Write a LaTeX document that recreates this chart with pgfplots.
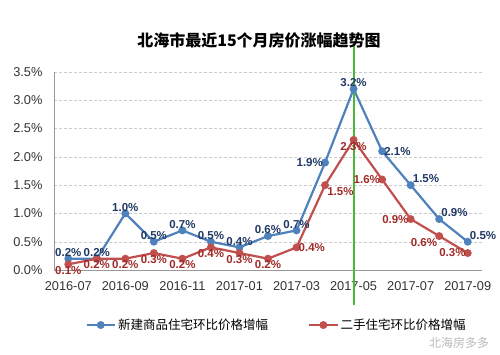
\documentclass[border=0pt]{standalone}
\usepackage{pgfplots}
\pgfplotsset{compat=1.18}
\usepackage{fontspec}
\setmainfont{Liberation Sans}
\newfontfamily\cjk{Noto Sans CJK SC}
\definecolor{sblue}{HTML}{4F81BD}
\definecolor{sred}{HTML}{C0504D}
\definecolor{lblue}{HTML}{1F3864}
\definecolor{lred}{HTML}{A02B28}
\definecolor{gline}{HTML}{4CB83A}
\definecolor{tickc}{HTML}{333333}

\pgfplotsset{
  lbl/.style={draw=none, mark=none, forget plot, point meta=y,
    nodes near coords={\pgfmathprintnumber[fixed,fixed zerofill,precision=1]{\pgfplotspointmeta}\%},
    every node near coord/.append style={anchor=#1, font=\bfseries\fontsize{11.5}{13}\selectfont, inner sep=2pt}},
  bl/.style={lbl=#1, nodes near coords style={text=lblue}},
  rl/.style={lbl=#1, nodes near coords style={text=lred}},
}

\begin{document}
\begin{tikzpicture}
\useasboundingbox (-54pt,-84pt) rectangle (446pt,270pt);
\begin{axis}[
  at={(0,0)}, anchor=south west,
  scale only axis, width=428pt, height=198pt,
  xmin=-0.5, xmax=14.5, ymin=0, ymax=3.5,
  clip=false,
  axis lines=left,
  axis line style={-, draw=gray!80},
  major tick length=0pt,
  xtick={0,2,...,14},
  xticklabels={2016-07,2016-09,2016-11,2017-01,2017-03,2017-05,2017-07,2017-09},
  ytick={0,0.5,...,3.5},
  yticklabel={\pgfmathprintnumber[fixed,fixed zerofill,precision=1]{\tick}\%},
  /pgf/number format/assume math mode=true,
  ticklabel style={font=\fontsize{12.8}{14}\selectfont, text=tickc},
  xticklabel style={yshift=-8pt},
  yticklabel style={xshift=-8pt},
  ymajorgrids,
  grid style={densely dashed, draw=gray!40},
  legend style={at={(0.52,-0.278)}, anchor=center, draw=none, fill=none,
    legend columns=2, font=\cjk\fontsize{12.5}{14}\selectfont,
    /tikz/every even column/.append style={column sep=38pt}},
  legend image code/.code={
    \draw[#1, mark repeat=2, mark phase=2] plot coordinates {(0cm,0cm) (0.5cm,0cm) (1cm,0cm)};},
]
% new homes
\addplot[sblue, line width=2.2pt, mark=*, mark size=2.8pt] coordinates {
(0,0.2) (1,0.2) (2,1.0) (3,0.5) (4,0.7) (5,0.5) (6,0.4) (7,0.6) (8,0.7)
(9,1.9) (10,3.2) (11,2.1) (12,1.5) (13,0.9) (14,0.5)};
\addlegendentry{新建商品住宅环比价格增幅}
% second-hand
\addplot[sred, line width=2.2pt, mark=*, mark size=2.8pt] coordinates {
(0,0.1) (1,0.2) (2,0.2) (3,0.3) (4,0.2) (5,0.4) (6,0.3) (7,0.2) (8,0.4)
(9,1.5) (10,2.3) (11,1.6) (12,0.9) (13,0.6) (14,0.3)};
\addlegendentry{二手住宅环比价格增幅}
\addplot[draw=gline, line width=1.8pt, forget plot, mark=none] coordinates {(10,-0.62) (10,3.97)};
% labels blue
\addplot[bl=south] coordinates {(0,0.2) (1,0.2) (2,1.0) (3,0.5) (4,0.7) (5,0.5) (6,0.4) (7,0.6) (8,0.7) (10,3.2)};
\addplot[bl=east] coordinates {(9,1.9)};
\addplot[bl=west] coordinates {(11,2.1)};
\addplot[bl=south west] coordinates {(12,1.5) (13,0.9) (14,0.5)};
% labels red
\addplot[rl=north] coordinates {(0,0.1) (1,0.2) (2,0.2) (3,0.3) (4,0.2) (5,0.4) (6,0.3) (7,0.2) (10,2.3)};
\addplot[rl=west] coordinates {(8,0.4)};
\addplot[rl=north west] coordinates {(9,1.5)};
\addplot[rl=east] coordinates {(11,1.6) (12,0.9) (14,0.3)};
\addplot[rl=north east] coordinates {(13,0.6)};
\end{axis}
\node[font=\cjk\bfseries\fontsize{16}{18}\selectfont, text=black] at (205pt,230pt) {北海市最近15个月房价涨幅趋势图};
\node[font=\cjk\itshape\fontsize{12}{14}\selectfont, text=gray!55] at (405pt,-73pt) {北海房多多};
\end{tikzpicture}
\end{document}
